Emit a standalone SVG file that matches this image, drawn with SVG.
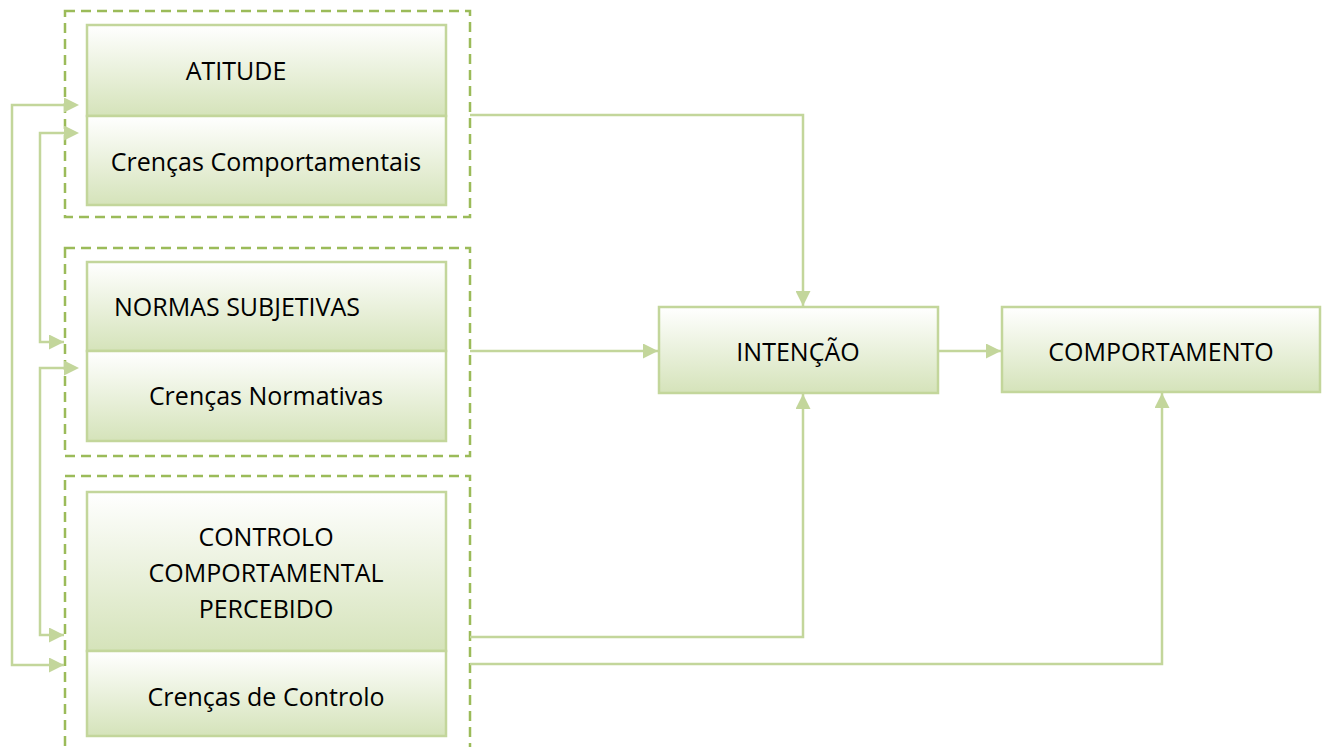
<svg xmlns="http://www.w3.org/2000/svg" width="1325" height="747" viewBox="0 0 1325 747">
<defs>
<linearGradient id="g" x1="0" y1="0" x2="0" y2="1">
<stop offset="0" stop-color="#ffffff"/>
<stop offset="1" stop-color="#d5e3ba"/>
</linearGradient>
<marker id="a" viewBox="0 0 10 10" refX="10" refY="5" markerWidth="6" markerHeight="6" orient="auto" markerUnits="strokeWidth">
<path d="M0,0 L10,5 L0,10 z" fill="#c3d69b"/>
</marker>
<marker id="as" viewBox="0 0 10 10" refX="0" refY="5" markerWidth="6" markerHeight="6" orient="auto-start-reverse" markerUnits="strokeWidth">
<path d="M0,0 L10,5 L0,10 z" fill="#c3d69b"/>
</marker>
</defs>
<style>
.box{fill:url(#g);stroke:#c3d69b;stroke-width:2.5}
.grp{fill:none;stroke:#9bbb59;stroke-width:2.5;stroke-dasharray:10 6}
.t{font-family:"Open Sans","Liberation Sans",sans-serif;font-size:25px;fill:#000;text-anchor:middle}
.c{fill:none;stroke:#c3d69b;stroke-width:2.5}
</style>
<rect width="1325" height="747" fill="#fff"/>
<g id="atitude">
<rect class="grp" x="65" y="11" width="405" height="206"/>
<rect class="box" x="87" y="25" width="359" height="91"/>
<rect class="box" x="87" y="116" width="359" height="89"/>
<text class="t" x="236" y="80">ATITUDE</text>
<text class="t" x="266" y="171">Crenças Comportamentais</text>
</g>
<g id="normas">
<rect class="grp" x="65" y="248" width="405" height="208"/>
<rect class="box" x="87" y="262" width="359" height="89"/>
<rect class="box" x="87" y="351" width="359" height="90"/>
<text class="t" x="237" y="316">NORMAS SUBJETIVAS</text>
<text class="t" x="266" y="405">Crenças Normativas</text>
</g>
<g id="controlo">
<rect class="grp" x="65" y="476" width="405" height="290"/>
<rect class="box" x="87" y="492" width="359" height="159"/>
<rect class="box" x="87" y="651" width="359" height="85"/>
<text class="t" x="266" y="546">CONTROLO</text>
<text class="t" x="266" y="582">COMPORTAMENTAL</text>
<text class="t" x="266" y="618">PERCEBIDO</text>
<text class="t" x="266" y="706">Crenças de Controlo</text>
</g>
<g id="intencao">
<rect class="box" x="659" y="307" width="279" height="86"/>
<text class="t" x="798" y="361">INTENÇÃO</text>
</g>
<g id="comportamento">
<rect class="box" x="1002" y="307" width="318" height="85"/>
<text class="t" x="1161" y="361">COMPORTAMENTO</text>
</g>
<g id="connectors">
<path class="c" d="M64,105 H12 V665 H64" marker-start="url(#as)" marker-end="url(#a)"/>
<path class="c" d="M64,133 H40 V342 H64" marker-start="url(#as)" marker-end="url(#a)"/>
<path class="c" d="M64,368 H40 V635 H64" marker-start="url(#as)" marker-end="url(#a)"/>
<path class="c" d="M470,115 H803 V306" marker-end="url(#a)"/>
<path class="c" d="M470,351 H658" marker-end="url(#a)"/>
<path class="c" d="M470,637 H803 V394" marker-end="url(#a)"/>
<path class="c" d="M938,351 H1001" marker-end="url(#a)"/>
<path class="c" d="M470,664 H1162 V393" marker-end="url(#a)"/>
</g>
</svg>
